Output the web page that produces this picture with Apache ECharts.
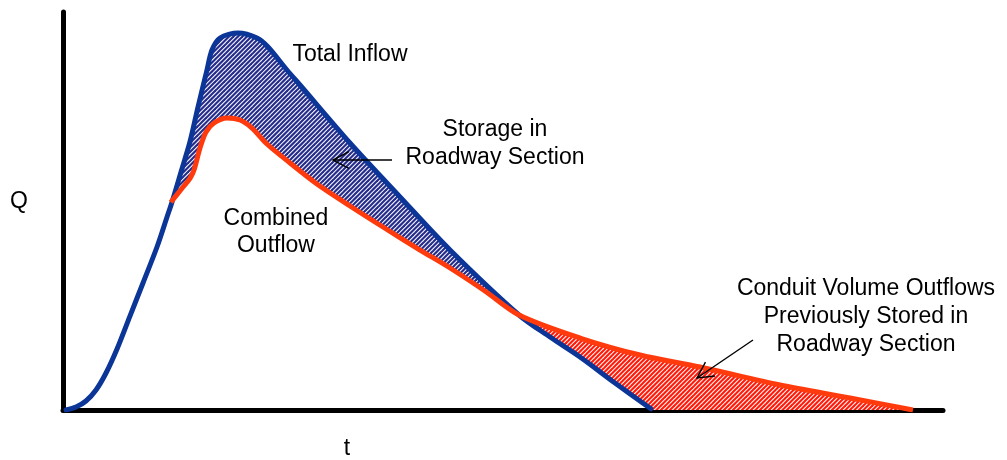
<!DOCTYPE html>
<html><head><meta charset="utf-8">
<script src="https://cdn.jsdelivr.net/npm/echarts@6/dist/echarts.min.js"></script>
<style>html,body{margin:0;padding:0;background:#fff}#c{width:1007px;height:460px}</style>
</head><body><div id="c"></div>
<script>
// Total Inflow hydrograph [t, Q]
const totalInflow = [
  [0.34,0],[1.48,0.75],[2.61,2.26],[3.75,5.03],[4.89,9.3],[6.14,15.33],[7.61,23.6],[9.09,31.91],
  [10.68,40.95],[11.82,48.49],[12.39,52.26],[13.41,59.80],[14.43,67.4],[15.34,76.13],
  [16.36,85.43],[16.93,90.45],[17.84,93.47],[19.89,94.72],[22.05,93.47],[23.30,91.21],
  [25.45,85.43],[26.93,81.66],[32.61,67.09],[38.30,53.52],[43.98,40.20],[51.82,23.87],
  [55.34,18.34],[58.75,13.32],[62.73,6.78],[66.8,0.3]
];
// Combined Outflow hydrograph [t, Q]
const combinedOutflow = [
  [12.25,52.2],[13.64,56.03],[14.43,58.2],[14.89,60.30],[15.57,65.83],[16.25,69.85],
  [17.16,72.11],[18.64,73.37],[20.11,72.86],[21.48,70.85],[23.18,66.83],[25.80,62.06],
  [28.86,56.78],[32.61,51.26],[36.36,45.98],[40.57,40.20],[43.98,35.68],[47.95,29.90],
  [51.82,23.87],[58.75,18.09],[65.57,13.82],[72.39,10.80],[81.48,6.28],[89.43,3.02],[96.59,0]
];
const crossT = 51.82;          // where the two hydrographs cross
const inflowEndT = 66.8;       // inflow returns to zero
const outflowEndT = 96.59;     // outflow returns to zero
// text labels [t, Q] and their texts
const labelPos = [
  [32.61,89.2],[49.09,70.35],[49.09,63.3],[24.2,47.99],[24.2,41.21],
  [91.25,30.4],[91.25,23.4],[91.25,16.3],[-5.0,52.3],[32.27,-9.8]
];
const labelText = [
  'Total Inflow','Storage in','Roadway Section','Combined','Outflow',
  'Conduit Volume Outflows','Previously Stored in','Roadway Section','Q','t'
];
// annotation arrows [tailT, tailQ, headT, headQ]
const arrows = [
  [37.39,62.81,30.68,62.81],
  [78.41,17.59,72.05,8.04]
];

const BLUE = '#0b3597', RED = '#ff3b0d';
function stripes(color){
  const c = document.createElement('canvas');
  c.width = 9; c.height = 9;
  const g = c.getContext('2d');
  g.fillStyle = '#ffffff'; g.fillRect(0,0,9,9);
  g.strokeStyle = color; g.lineWidth = 2.2;
  for (let k = -2; k <= 6; k++) {
    const cc = k * 4.5;
    g.beginPath(); g.moveTo(-10, cc + 10); g.lineTo(cc + 10, -10); g.stroke();
  }
  return {image: c, repeat: 'repeat'};
}
const bluePat = stripes('#252c8c');
const redPat = stripes('#ff1a0a');

const storagePoly = totalInflow.filter(p => p[0] >= 12.39 && p[0] <= crossT)
  .concat(combinedOutflow.filter(p => p[0] <= crossT).slice().reverse());
const releasePoly = combinedOutflow.filter(p => p[0] >= crossT)
  .concat([[outflowEndT,0],[inflowEndT,0]])
  .concat(totalInflow.filter(p => p[0] >= crossT).slice().reverse());

function polySeries(poly, pat, z){
  return {
    type: 'custom', coordinateSystem: 'cartesian2d', silent: true, z: z, clip: false,
    data: [[0,0]],
    renderItem: function(params, api){
      return {type:'polygon', shape:{points: poly.map(p => api.coord(p))},
              style:{fill: pat, stroke: null}};
    }
  };
}

const chart = echarts.init(document.getElementById('c'), null, {renderer:'canvas'});
const FONT = '"Liberation Sans", Arial, sans-serif';
chart.setOption({
  animation: false,
  backgroundColor: '#ffffff',
  grid: {left: 63, right: 64, top: 12, bottom: 50},
  xAxis: {type:'value', min:0, max:100, axisLine:{show:true, onZero:false, lineStyle:{color:'#000', width:5}},
          axisTick:{show:false}, axisLabel:{show:false}, splitLine:{show:false}},
  yAxis: {type:'value', min:0, max:100, axisLine:{show:true, onZero:false, lineStyle:{color:'#000', width:5}},
          axisTick:{show:false}, axisLabel:{show:false}, splitLine:{show:false}},
  series: [
    polySeries(storagePoly, bluePat, 1),
    polySeries(releasePoly, redPat, 1),
    {type:'line', data: totalInflow, smooth: 0.3, showSymbol:false, silent:true, z:3,
     lineStyle:{color: BLUE, width:5, cap:'round', join:'round'}},
    {type:'line', data: combinedOutflow, smooth: 0.3, showSymbol:false, silent:true, z:4,
     lineStyle:{color: RED, width:5, cap:'butt', join:'round'}},
    {type:'custom', coordinateSystem:'cartesian2d', silent:true, z:5, clip:false,
     data: arrows, encode:{x:[0,2], y:[1,3]},
     renderItem: function(params, api){
       const a = api.coord([api.value(0), api.value(1)]);
       const b = api.coord([api.value(2), api.value(3)]);
       const ang = Math.atan2(a[1]-b[1], a[0]-b[0]);
       const L = 18, h = 28 * Math.PI / 180;
       const p1 = [b[0] + L*Math.cos(ang+h), b[1] + L*Math.sin(ang+h)];
       const p2 = [b[0] + L*Math.cos(ang-h), b[1] + L*Math.sin(ang-h)];
       const st = {stroke:'#000', lineWidth:1.4, fill:null};
       return {type:'group', children:[
         {type:'line', shape:{x1:a[0], y1:a[1], x2:b[0], y2:b[1]}, style: st},
         {type:'polyline', shape:{points:[p1, b, p2]}, style: st}
       ]};
     }},
    {type:'custom', coordinateSystem:'cartesian2d', silent:true, z:6, clip:false,
     data: labelPos,
     renderItem: function(params, api){
       const p = api.coord([api.value(0), api.value(1)]);
       return {type:'text', x:p[0], y:p[1],
               style:{text: labelText[params.dataIndex], fill:'#000',
                      font: '23px ' + FONT, align:'center', verticalAlign:'middle'}};
     }}
  ]
});
</script>
</body></html>
